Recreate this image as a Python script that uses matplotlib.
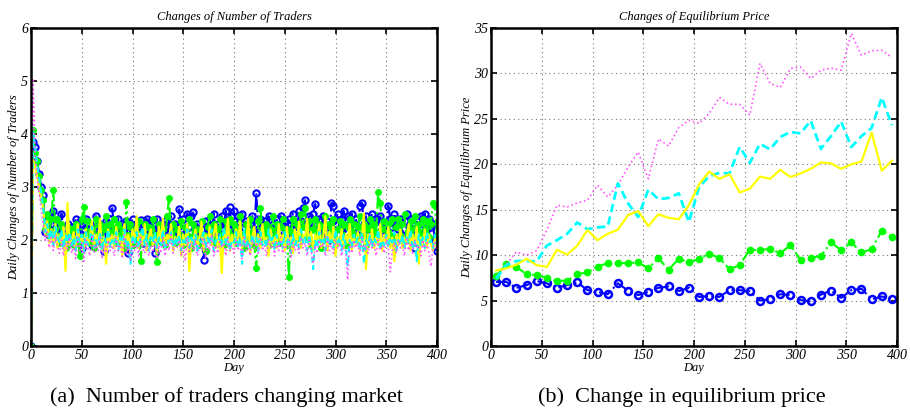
import numpy as np
import matplotlib
matplotlib.use("Agg")
import matplotlib.pyplot as plt

plt.rcParams['font.family'] = ['Liberation Serif', 'DejaVu Serif']

# ---------------- (a) daily changes of number of traders ----------------
days_a = np.arange(0, 401, 2)

traders_blue = [
    0, 3.85, 3.75, 3.5, 3.25, 3.0, 2.85, 2.15, 2.45, 2.1, 2.3, 2.55, 2.2, 2.35, 2.0, 2.5, 2.2, 1.9, 2.3, 2.05,
    2.25, 1.95, 2.4, 2.1, 2.35, 1.85, 2.2, 2.4, 2.05, 2.3, 1.9, 2.2, 2.45, 2.0, 2.3, 2.1, 1.8, 2.35, 2.15, 2.4,
    2.6, 2.2, 2.0, 2.4, 2.15, 2.3, 1.9, 2.35, 1.75, 2.25, 2.4, 2.05, 2.3, 2.15, 2.38, 1.95, 2.2, 2.4, 2.1, 2.35,
    2.2, 1.75, 2.4, 2.0, 2.3, 2.15, 2.35, 2.05, 2.25, 2.45, 2.1, 2.3, 2.0, 2.58, 2.2, 2.4, 2.1, 2.5, 2.25, 2.45,
    2.52, 2.1, 2.3, 1.95, 2.2, 1.62, 2.35, 2.1, 2.4, 2.15, 2.5, 2.2, 2.3, 2.05, 2.45, 2.2, 2.55, 2.3, 2.62, 2.1,
    2.55, 2.2, 2.45, 2.1, 2.5, 2.25, 2.35, 2.0, 2.3, 2.45, 2.15, 2.88, 2.2, 2.4, 2.1, 2.35, 2.2, 2.45, 2.0, 2.3,
    2.2, 2.4, 2.1, 2.45, 2.25, 2.35, 2.05, 2.4, 2.2, 2.5, 2.3, 2.15, 2.55, 2.35, 2.6, 2.75, 2.3, 2.45, 2.2, 2.5,
    2.68, 2.3, 2.4, 2.1, 2.45, 2.25, 2.35, 2.0, 2.7, 2.65, 2.3, 2.5, 2.2, 2.4, 2.55, 2.15, 2.45, 2.3, 2.5, 2.25,
    2.4, 2.1, 2.65, 2.7, 2.3, 2.45, 2.2, 2.35, 2.5, 2.1, 2.4, 2.25, 2.45, 2.2, 2.3, 2.1, 2.65, 2.4, 2.25, 2.5,
    2.3, 2.2, 2.4, 2.1, 2.35, 2.5, 2.25, 2.4, 2.2, 1.85, 2.35, 2.15, 2.45, 2.3, 2.5, 2.2, 2.4, 2.25, 2.3, 2.0,
    1.8,
]
traders_green = [
    0, 4.08, 3.65, 3.5, 3.2, 2.95, 2.75, 2.2, 2.5, 2.1, 2.4, 2.95, 2.2, 2.4, 1.95, 2.3, 2.1, 1.85, 2.25, 2.0,
    2.2, 1.9, 2.3, 2.05, 1.7, 2.4, 2.62, 2.1, 2.35, 1.95, 2.2, 1.85, 2.4, 2.1, 2.3, 1.9, 2.2, 2.45, 2.0, 2.3,
    2.15, 2.4, 1.95, 2.3, 2.1, 2.2, 1.85, 2.72, 2.1, 2.3, 1.9, 2.2, 2.0, 2.35, 1.6, 2.15, 2.3, 2.0, 2.25, 1.95,
    2.4, 2.1, 1.58, 2.3, 2.05, 2.2, 1.9, 2.45, 2.8, 2.1, 2.3, 1.95, 2.2, 2.05, 2.35, 1.9, 2.25, 2.1, 2.4, 1.85,
    2.3, 2.05, 2.2, 1.9, 2.35, 2.1, 1.8, 2.25, 2.45, 2.0, 2.3, 1.95, 2.2, 2.4, 2.1, 1.9, 2.35, 2.15, 2.4, 2.05,
    2.3, 1.95, 2.2, 2.45, 2.1, 1.85, 2.3, 2.05, 2.4, 2.15, 1.9, 1.48, 2.35, 2.6, 2.2, 2.05, 2.3, 1.9, 2.2, 2.45,
    2.1, 2.3, 1.95, 2.25, 2.4, 2.05, 2.2, 1.3, 2.15, 2.4, 2.0, 2.3, 2.1, 2.5, 2.25, 2.6, 2.05, 2.35, 1.9, 2.2,
    2.4, 2.1, 2.3, 1.85, 2.25, 2.45, 2.0, 2.3, 2.15, 2.4, 1.95, 2.2, 2.35, 2.05, 2.3, 1.9, 2.25, 2.4, 2.1, 2.3,
    2.0, 2.25, 2.45, 2.1, 2.3, 1.9, 2.2, 2.4, 2.05, 2.3, 2.15, 2.9, 2.7, 2.2, 2.35, 2.05, 2.3, 2.1, 2.4, 1.95,
    2.25, 2.4, 2.1, 2.3, 2.5, 2.0, 2.2, 2.35, 2.05, 2.45, 2.2, 2.3, 2.1, 2.4, 2.2, 2.35, 2.05, 2.3, 2.7, 2.65,
    2.1,
]
traders_yellow = [
    0, 3.5, 3.4, 3.2, 3.0, 2.8, 2.6, 2.1, 2.35, 1.95, 2.2, 1.9, 2.3, 1.85, 2.1, 1.95, 2.25, 1.42, 2.7, 1.9,
    2.0, 2.15, 1.8, 2.3, 1.95, 2.1, 1.75, 2.2, 1.9, 2.05, 2.35, 1.85, 2.1, 1.95, 2.4, 1.8, 2.05, 1.55, 2.2, 1.9,
    2.1, 1.85, 2.25, 1.95, 2.05, 1.7, 2.3, 1.9, 2.1, 1.75, 2.2, 1.95, 2.45, 1.85, 2.1, 1.9, 2.3, 1.8, 2.05, 2.2,
    1.9, 2.1, 1.75, 2.25, 1.95, 2.4, 1.85, 2.1, 2.0, 2.3, 1.8, 2.05, 1.95, 2.25, 1.7, 2.1, 1.9, 2.3, 1.42, 2.05,
    1.95, 2.2, 1.85, 2.05, 2.35, 1.8, 2.1, 1.95, 2.25, 1.9, 2.1, 2.3, 1.85, 2.05, 1.38, 2.2, 1.95, 2.4, 1.8, 2.1,
    1.9, 2.2, 2.0, 2.35, 1.85, 2.1, 1.95, 2.4, 1.75, 2.05, 2.25, 1.9, 2.1, 1.85, 2.3, 1.95, 2.05, 1.7, 2.2, 1.9,
    2.05, 1.85, 2.3, 1.95, 2.1, 1.8, 2.25, 1.9, 2.05, 1.75, 2.2, 1.95, 2.35, 1.85, 2.1, 2.0, 2.4, 1.9, 2.15, 1.8,
    2.1, 1.95, 2.3, 1.85, 2.05, 2.45, 1.8, 2.15, 1.95, 2.25, 1.7, 2.05, 1.9, 2.2, 1.85, 2.1, 1.95, 2.3, 1.8, 2.05,
    1.9, 2.15, 1.8, 2.05, 2.5, 1.45, 2.1, 1.95, 2.2, 1.85, 2.05, 1.9, 2.3, 1.8, 2.1, 1.95, 2.25, 1.85, 2.05, 1.6,
    2.1, 1.9, 2.2, 1.85, 2.05, 1.95, 2.3, 1.8, 2.1, 1.9, 2.25, 1.55, 2.05, 1.9, 2.2, 1.85, 2.1, 1.95, 1.8, 2.05,
    1.85,
]
traders_cyan = [
    0, 4.05, 3.75, 3.45, 3.15, 2.9, 2.6, 2.15, 2.3, 2.0, 2.2, 1.9, 2.25, 2.05, 1.95, 2.2, 1.85, 2.1, 1.95, 2.15,
    1.9, 2.05, 1.8, 2.2, 1.95, 2.1, 1.75, 2.15, 1.9, 2.05, 2.25, 1.85, 2.0, 1.9, 2.15, 1.8, 2.05, 1.95, 2.2, 1.85,
    2.0, 1.9, 2.15, 1.8, 2.05, 1.95, 2.2, 1.85, 2.0, 1.55, 2.1, 1.9, 2.15, 1.85, 2.05, 2.25, 1.9, 2.1, 1.8, 2.05,
    1.95, 2.15, 1.85, 2.05, 1.9, 2.2, 1.8, 2.0, 1.95, 2.15, 1.85, 2.05, 1.9, 2.1, 1.8, 2.0, 1.9, 2.2, 1.85, 2.05,
    1.9, 2.1, 1.75, 2.0, 1.95, 2.15, 1.85, 2.05, 1.9, 2.2, 1.8, 2.0, 1.95, 2.1, 1.85, 2.25, 1.9, 2.05, 1.8, 2.0,
    1.95, 2.15, 1.85, 2.05, 1.55, 2.2, 1.9, 2.0, 1.85, 2.1, 1.95, 2.05, 1.8, 2.15, 1.9, 2.0, 1.85, 2.2, 1.95, 2.05,
    1.8, 2.1, 1.9, 2.0, 1.85, 2.15, 1.95, 2.05, 1.75, 2.1, 1.9, 2.0, 1.85, 2.2, 1.95, 2.05, 1.8, 2.1, 1.9, 1.45,
    2.0, 1.85, 2.15, 1.95, 2.05, 1.8, 2.1, 1.9, 2.0, 1.85, 2.2, 1.95, 2.05, 1.8, 2.1, 1.9, 1.5, 2.0, 1.85, 2.1,
    1.95, 2.05, 1.8, 2.15, 1.55, 2.0, 1.9, 2.1, 1.85, 2.05, 1.95, 2.2, 1.8, 2.0, 1.9, 2.1, 1.85, 2.05, 1.95, 2.15,
    1.8, 2.0, 1.9, 2.1, 1.85, 2.05, 1.95, 2.2, 1.8, 2.0, 1.6, 2.1, 1.9, 2.05, 1.85, 2.15, 1.95, 2.0, 1.85, 2.1,
    1.9,
]
traders_magenta = [
    0, 5.05, 3.6, 3.2, 2.9, 2.6, 2.3, 2.0, 2.15, 1.85, 2.05, 1.8, 2.1, 1.9, 1.75, 2.0, 1.7, 1.95, 1.8, 2.05,
    1.75, 1.9, 1.65, 2.05, 1.8, 1.95, 1.6, 2.0, 1.85, 1.7, 2.1, 1.75, 1.9, 1.8, 2.05, 1.65, 1.9, 1.75, 2.0, 1.8,
    1.9, 1.7, 2.05, 1.8, 1.95, 1.65, 2.1, 1.75, 1.9, 1.6, 2.0, 1.8, 1.95, 1.7, 2.05, 1.85, 1.75, 1.95, 1.7, 1.9,
    1.8, 2.0, 1.65, 1.9, 1.75, 2.05, 1.7, 1.95, 1.8, 2.1, 1.75, 1.9, 1.85, 2.0, 1.7, 1.9, 1.6, 2.05, 1.75, 1.95,
    1.8, 2.0, 1.7, 1.9, 1.85, 2.05, 1.65, 1.95, 1.8, 2.1, 1.7, 1.9, 1.75, 2.0, 1.85, 1.95, 1.7, 2.05, 1.8, 1.9,
    1.75, 2.0, 1.8, 1.95, 1.65, 2.05, 1.8, 1.9, 1.7, 2.0, 1.85, 1.95, 1.75, 2.05, 1.8, 1.9, 1.7, 2.0, 1.85, 1.95,
    1.7, 1.95, 1.8, 2.05, 1.75, 1.9, 1.85, 2.0, 1.65, 1.95, 1.8, 1.9, 1.75, 2.05, 1.85, 1.95, 1.7, 2.0, 1.8, 1.55,
    1.9, 1.75, 2.0, 1.85, 1.95, 1.7, 2.05, 1.8, 1.9, 1.75, 2.0, 1.85, 1.95, 1.7, 1.9, 1.8, 1.25, 1.95, 1.75, 2.0,
    1.85, 1.95, 1.7, 2.05, 1.8, 1.9, 1.75, 2.0, 1.85, 1.95, 1.7, 2.0, 1.8, 1.9, 1.75, 2.05, 1.85, 1.4, 1.8, 1.95,
    1.75, 2.0, 1.85, 1.9, 1.7, 2.05, 1.8, 1.95, 1.75, 2.0, 1.85, 1.9, 1.7, 2.0, 1.8, 1.95, 1.75, 1.5, 1.85, 1.95,
    1.8,
]

# ---------------- (b) changes of equilibrium price ----------------
days_b = np.arange(5, 400, 10)

price_blue = [7.05, 7.05, 6.4, 6.7, 7.15, 6.9, 6.4, 6.7, 7.0, 6.15,
              5.95, 5.7, 6.9, 6.1, 5.6, 5.95, 6.4, 6.55, 6.05, 6.4,
              5.4, 5.5, 5.4, 6.15, 6.15, 6.0, 5.0, 5.15, 5.7, 5.6,
              5.05, 4.9, 5.65, 6.1, 5.3, 6.15, 6.3, 5.15, 5.45, 5.2]
price_green = [7.7, 9.0, 8.7, 7.9, 7.8, 7.5, 7.15, 7.2, 7.9, 8.1,
               8.75, 9.1, 9.15, 9.1, 9.2, 8.55, 9.65, 8.4, 9.6, 9.2,
               9.6, 10.15, 9.7, 8.45, 8.9, 10.6, 10.55, 10.7, 10.2, 11.1,
               9.45, 9.7, 9.9, 11.4, 10.55, 11.4, 10.3, 10.65, 12.7, 12.0]
price_yellow = [8.3, 8.55, 8.95, 9.6, 8.9, 8.7, 10.6, 10.05, 11.05, 12.75,
                11.65, 12.35, 12.8, 14.4, 14.85, 13.2, 14.5, 14.1, 13.95, 15.5,
                17.8, 19.2, 18.4, 18.9, 16.9, 17.3, 18.65, 18.4, 19.4, 18.6,
                19.0, 19.5, 20.2, 20.1, 19.5, 20.0, 20.3, 23.5, 19.3, 20.4]
price_cyan = [7.4, 8.9, 9.35, 9.35, 9.3, 11.05, 11.65, 12.35, 13.6, 12.85,
              13.05, 13.15, 17.9, 15.7, 14.2, 17.2, 16.15, 16.3, 16.8, 13.65,
              17.5, 18.7, 19.05, 19.0, 21.9, 20.15, 22.25, 21.65, 23.0, 23.55,
              23.4, 24.8, 21.7, 23.1, 24.7, 21.9, 23.1, 24.0, 27.35, 24.3]
price_magenta = [7.5, 9.0, 10.35, 10.0, 10.5, 12.75, 15.5, 15.3, 15.75, 16.05,
                 17.7, 16.4, 17.7, 19.7, 21.35, 18.4, 22.8, 22.0, 24.05, 24.85,
                 24.5, 25.6, 27.35, 26.6, 26.6, 25.4, 31.1, 28.9, 28.45, 30.55,
                 30.7, 29.45, 30.35, 30.6, 30.35, 34.4, 32.0, 32.5, 32.55, 31.75]

BLUE, GREEN, YELLOW, CYAN, MAGENTA = '#0000ff', '#00ff00', '#ffff00', '#00ffff', '#ff55ff'

fig = plt.figure(figsize=(9.1, 4.12), dpi=100)
W, H = 910, 412
axA = fig.add_axes([31 / W, 66 / H, 406 / W, 318 / H])
axB = fig.add_axes([491 / W, 66 / H, 406 / W, 318 / H])

label_font = dict(family='Liberation Serif', style='italic', size=9)


def style_axes(ax, ymax, ystep, title, ylabel):
    ax.set_xlim(0, 400)
    ax.set_ylim(0, ymax)
    ax.set_xticks(np.arange(0, 401, 50))
    ax.set_yticks(np.arange(0, ymax + 0.1, ystep))
    ax.grid(True, linestyle=(0, (1, 3)), color='#777777', linewidth=0.8)
    ax.tick_params(direction='in', top=True, right=True, length=4, width=1.2, pad=2)
    for lab in ax.get_xticklabels() + ax.get_yticklabels():
        lab.set_fontfamily('Liberation Serif')
        lab.set_fontstyle('italic')
        lab.set_fontsize(10)
    for sp in ax.spines.values():
        sp.set_linewidth(1.8)
    ax.set_title(title, fontdict=dict(family='Liberation Serif', style='italic', size=9), pad=6)
    ax.set_xlabel('Day', fontdict=label_font, labelpad=0)
    ax.set_ylabel(ylabel, fontdict=label_font, labelpad=1)


# panel (a)
axA.plot(days_a, traders_blue, '-.', color=BLUE, lw=1.5, marker='o', ms=4.5,
         mfc='none', mec=BLUE, mew=1.5)
axA.plot(days_a, traders_green, '-.', color=GREEN, lw=1.5, marker='o', ms=4,
         mfc=GREEN, mec=GREEN)
axA.plot(days_a, traders_yellow, '-', color=YELLOW, lw=1.6)
axA.plot(days_a, traders_cyan, '--', color=CYAN, lw=1.5, dashes=(3, 2))
axA.plot(days_a, traders_magenta, ':', color=MAGENTA, lw=1.2)
style_axes(axA, 6, 1, 'Changes of Number of Traders', 'Daily Changes of Number of Traders')

# panel (b)
axB.plot(days_b, price_blue, '-.', color=BLUE, lw=1.5, marker='o', ms=5,
         mfc='none', mec=BLUE, mew=1.8)
axB.plot(days_b, price_green, '-.', color=GREEN, lw=1.5, marker='o', ms=4.5,
         mfc=GREEN, mec=GREEN)
axB.plot(days_b, price_magenta, ':', color=MAGENTA, lw=1.2)
axB.plot(days_b, price_cyan, '--', color=CYAN, lw=2.0, dashes=(3, 1.6))
axB.plot(days_b, price_yellow, '-', color=YELLOW, lw=1.6)
style_axes(axB, 35, 5, 'Changes of Equilibrium Price', 'Daily Changes of Equilibrium Price')

fig.text(226 / W, 1 - 397 / H, '(a)\u2002Number of traders changing market',
         ha='center', va='center', family='Liberation Serif', size=16)
fig.text(682 / W, 1 - 397 / H, '(b)\u2002Change in equilibrium price',
         ha='center', va='center', family='Liberation Serif', size=16)

fig.savefig('out.png', dpi=100)
